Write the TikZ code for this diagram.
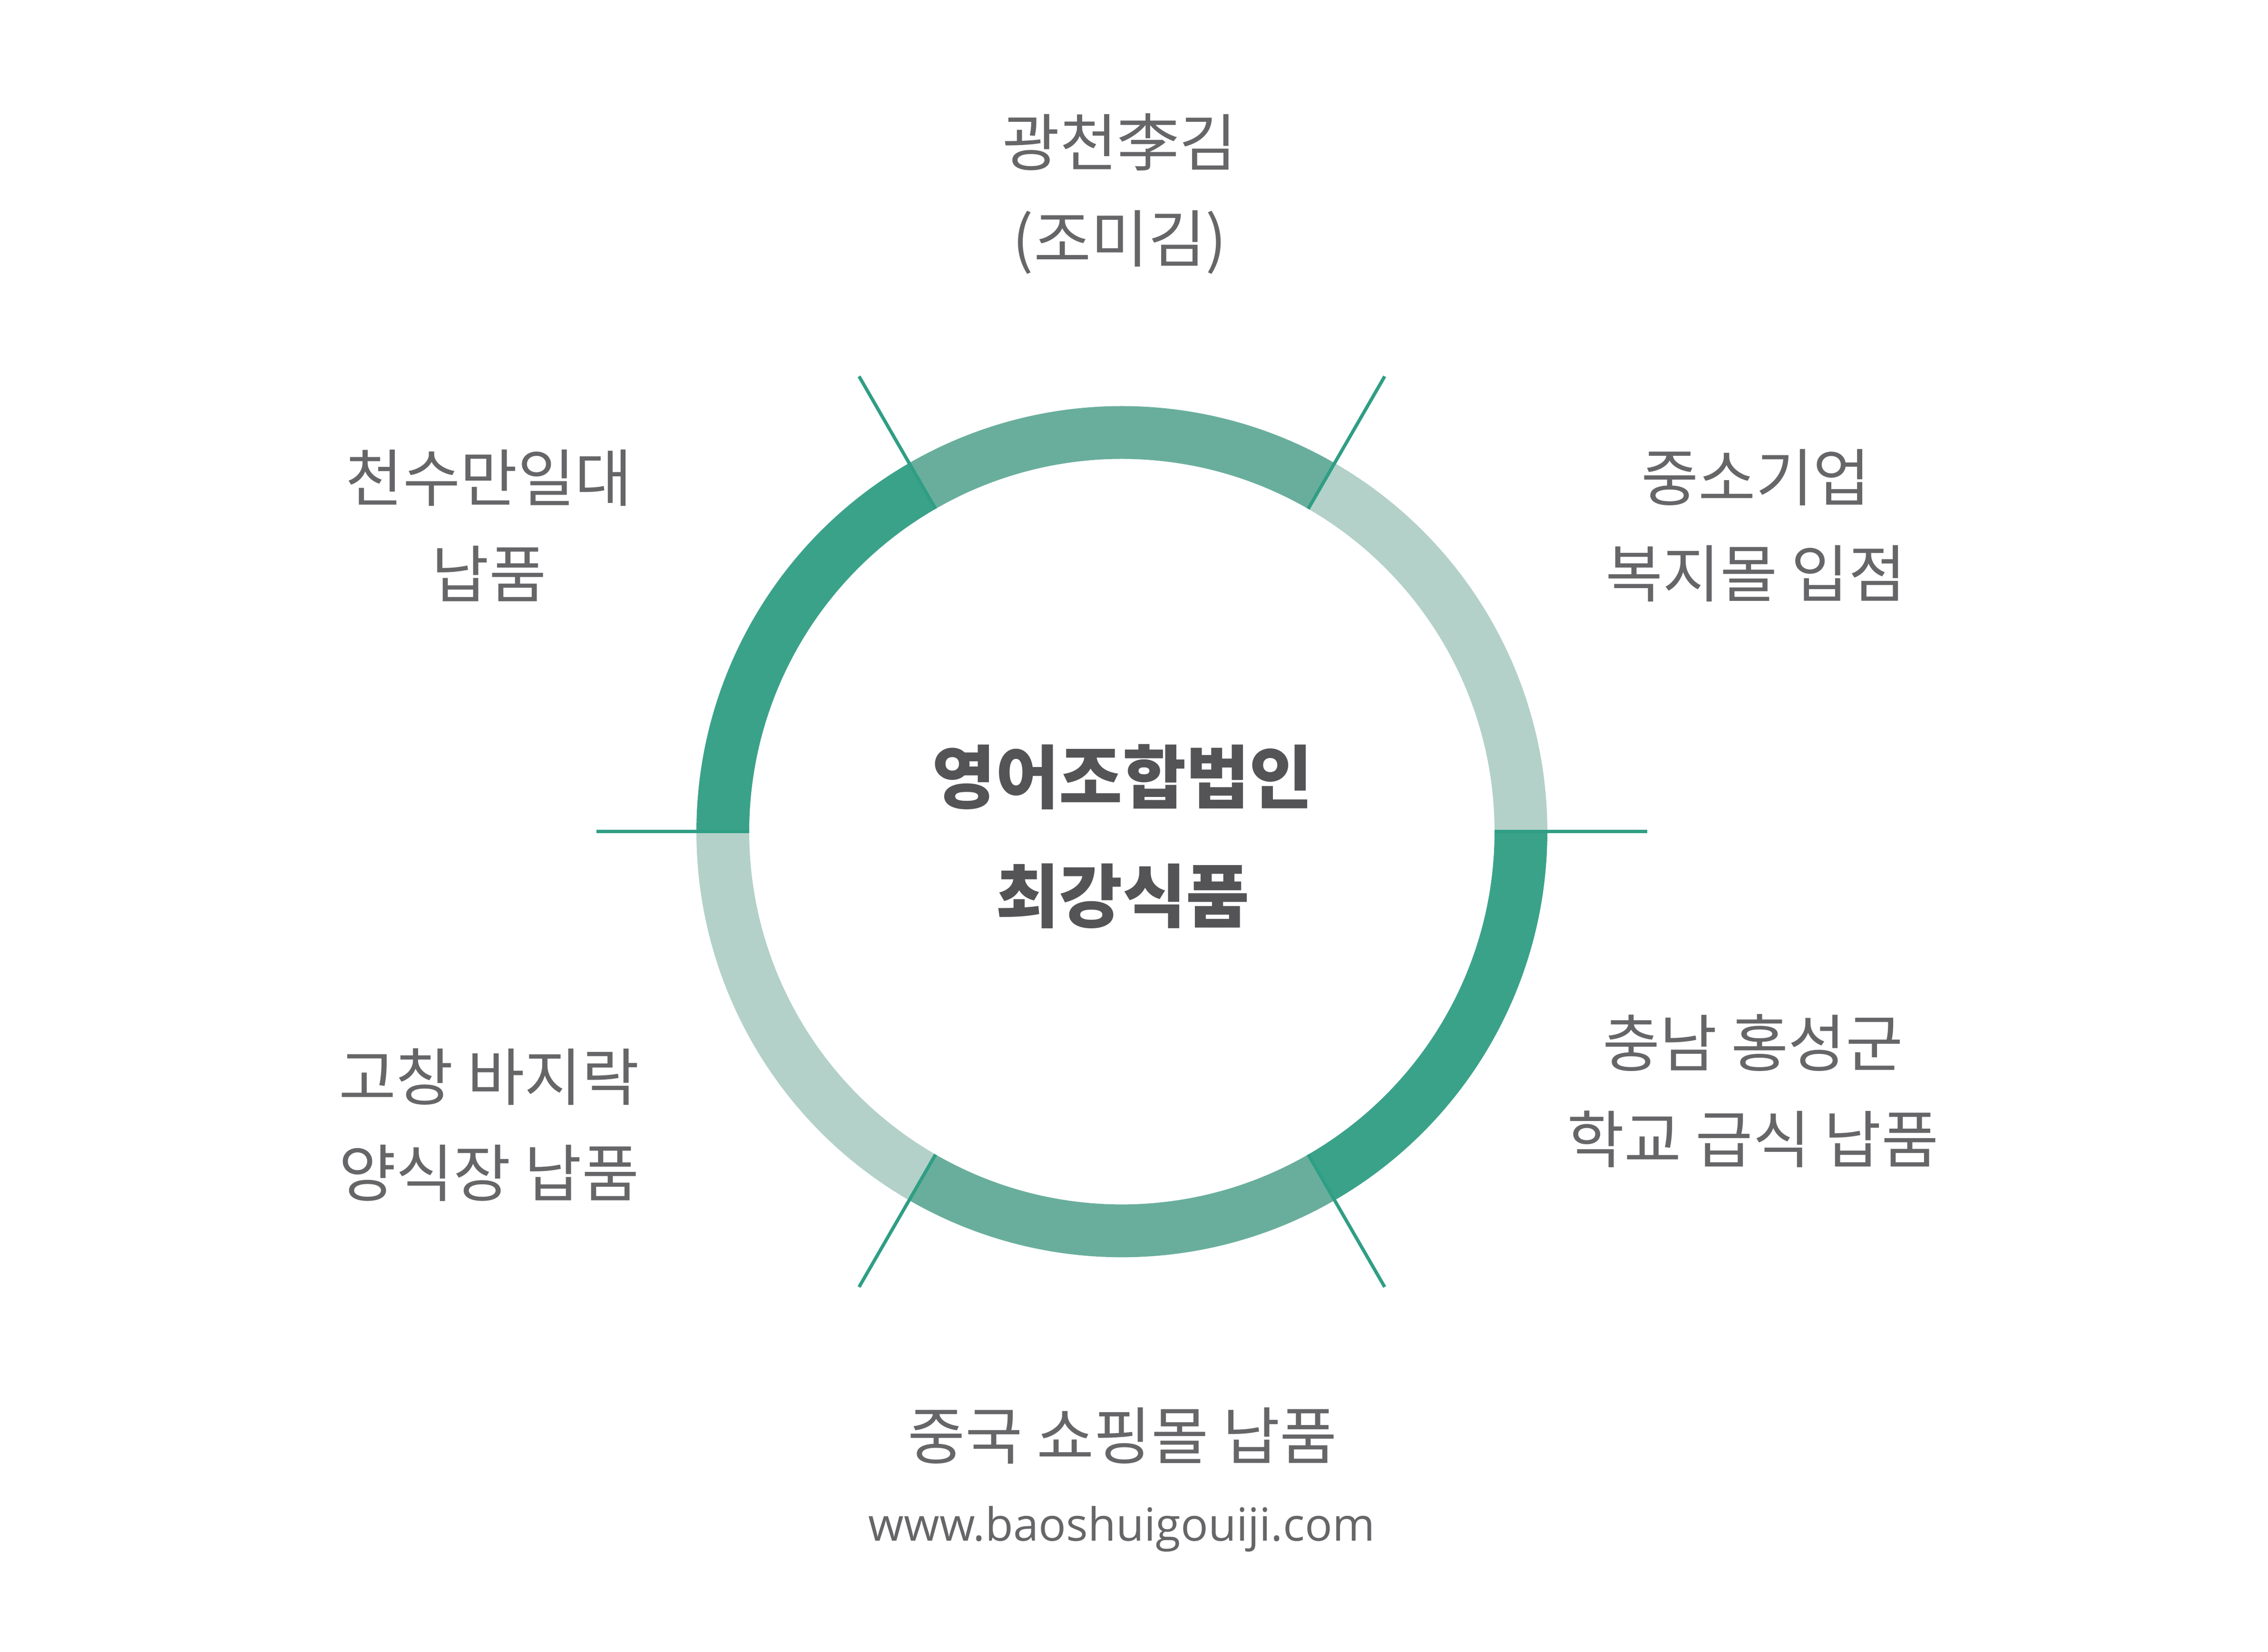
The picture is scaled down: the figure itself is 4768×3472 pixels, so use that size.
\documentclass[tikz,border=0pt]{standalone}
\usepackage{fontspec}
\newfontfamily\kr{Noto Sans CJK KR}
\newfontfamily\urlfont{Open Sans}
\definecolor{segL}{HTML}{B3D1C8}
\definecolor{segM}{HTML}{69AE9C}
\definecolor{segD}{HTML}{3BA28A}
\definecolor{tickc}{HTML}{2F9E85}
\definecolor{txtgray}{HTML}{666669}
\definecolor{txtdark}{HTML}{545457}
\begin{document}
\begin{tikzpicture}[x=0.1pt,y=0.1pt,
  lbl/.style={font=\kr\fontsize{13.1}{20.2}\selectfont, text=txtgray, align=center, inner sep=0pt},
  ctr/.style={font=\kr\bfseries\fontsize{14.5}{25}\selectfont, text=txtdark, align=center, inner sep=0pt},
  urlstyle/.style={font=\urlfont\fontsize{9.6}{12}\selectfont, text=txtgray, inner sep=0pt},
  tickline/.style={draw=tickc, line width=0.7pt}]
\useasboundingbox[fill=white] (0,0) rectangle (4768,3472);
\coordinate (C) at (2358.5,1724);
\begin{scope}[shift={(C)}]
  \foreach \a/\c in {0/segL,60/segM,120/segD,180/segL,240/segM,300/segD}{
    \pgfmathsetmacro\b{\a+60}
    \fill[\c] (\a:89.45pt) arc[start angle=\a, end angle=\b, radius=89.45pt]
      -- (\b:78.35pt) arc[start angle=\b, end angle=\a, radius=78.35pt] -- cycle;
  }
  \foreach \a in {0,60,120,180,240,300}{
    \draw[tickline] (\a:78.35pt) -- (\a:110.5pt);
  }
\end{scope}
\node[ctr] (center) at (2360,1714) {영어조합법인\\최강식품};
\node[lbl] (top) at (2354,3065) {광천李김\\(조미김)};
\node[lbl] (ur) at (3691,2367) {중소기업\\복지몰 입점};
\node[lbl] (ul) at (1028,2367) {천수만일대\\납품};
\node[lbl] (ll) at (1028,1108) {고창 바지락\\양식장 납품};
\node[lbl] (lr) at (3685,1179) {충남 홍성군\\학교 급식 납품};
\node[lbl] (bot) at (2360,454) {중국 쇼핑몰 납품};
\node[urlstyle] (url) at (2358,258) {www.baoshuigouiji.com};
\end{tikzpicture}
\end{document}
